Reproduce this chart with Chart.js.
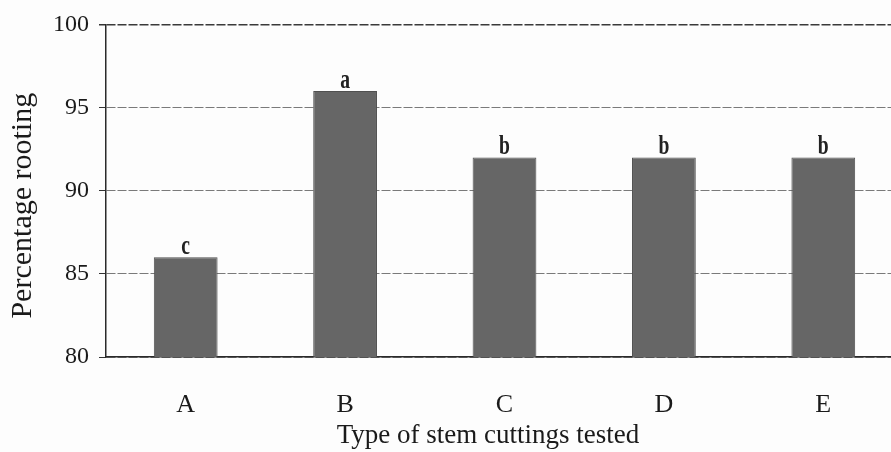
<!DOCTYPE html>
<html>
<head>
<meta charset="utf-8">
<script src="https://cdn.jsdelivr.net/npm/chart.js@4"></script>
<style>
html,body{margin:0;padding:0;background:#fdfdfd;overflow:hidden;}
#wrap{width:903px;height:452px;position:relative;}
</style>
</head>
<body>
<div id="wrap"><canvas id="c" width="903" height="452"></canvas></div>
<script>
const categories = ['A', 'B', 'C', 'D', 'E'];
const rootingValues = [86, 96, 92, 92, 92];
const significanceLetters = ['c', 'a', 'b', 'b', 'b'];
const yTicks = [80, 85, 90, 95, 100];
const xTitle = 'Type of stem cuttings tested';
const yTitle = 'Percentage rooting';

const FONT = "'Liberation Serif','Times New Roman',serif";

const textPlugin = {
  id: 'texts',
  afterDatasetsDraw(chart) {
    const ctx = chart.ctx;
    const meta = chart.getDatasetMeta(0);
    meta.data.forEach((bar, i) => {
      ctx.save();
      ctx.font = 'bold 28px ' + FONT;
      ctx.fillStyle = '#222222';
      ctx.textAlign = 'center';
      ctx.textBaseline = 'alphabetic';
      ctx.translate(bar.x, bar.y - 3);
      ctx.scale(0.7, 1);
      ctx.fillText(significanceLetters[i], 0, 0);
      ctx.restore();
    });
  },
  afterDraw(chart) {
    const ctx = chart.ctx;
    const area = chart.chartArea;
    ctx.save();
    ctx.fillStyle = '#1a1a1a';
    ctx.textAlign = 'center';
    ctx.textBaseline = 'middle';
    // x axis title, centred on the visible part of the plot
    ctx.font = '27px ' + FONT;
    ctx.fillText(xTitle, (area.left + 870) / 2, chart.height - 16);
    // y axis title
    ctx.font = '30px ' + FONT;
    ctx.translate(23, (area.top + area.bottom) / 2 + 15);
    ctx.rotate(-Math.PI / 2);
    ctx.fillText(yTitle, 0, 0);
    ctx.restore();
  }
};

new Chart(document.getElementById('c'), {
  type: 'bar',
  data: {
    labels: categories,
    datasets: [{
      data: rootingValues,
      backgroundColor: '#666666',
      borderColor: '#505050',
      borderWidth: 1,
      barPercentage: 0.4,
      categoryPercentage: 1.0
    }]
  },
  options: {
    responsive: false,
    animation: false,
    devicePixelRatio: 1,
    layout: { padding: { top: 24, right: 0, left: 0, bottom: 0 } },
    plugins: { legend: { display: false }, tooltip: { enabled: false } },
    scales: {
      y: {
        min: 80, max: 100,
        afterBuildTicks: s => { s.ticks = yTicks.map(v => ({ value: v })); },
        afterFit: s => { s.width = 106; },
        border: { display: true, color: '#2a2a2a', width: 1.5, dash: [9, 2] },
        grid: {
          color: ctx => (ctx.tick && ctx.tick.value === 100) ? '#3a3a3a' : '#7a7a7a',
          lineWidth: ctx => (ctx.tick && ctx.tick.value === 100) ? 1.5 : 1,
          tickLength: 7,
          tickColor: '#333333',
          drawTicks: true
        },
        ticks: {
          color: '#1a1a1a',
          font: { family: FONT, size: 24 },
          padding: 10
        },
        title: { display: false }
      },
      x: {
        afterFit: s => { s.height = 95; },
        border: { display: true, color: '#2a2a2a', width: 1.5 },
        grid: { display: false, drawTicks: false },
        ticks: {
          color: '#1a1a1a',
          font: { family: FONT, size: 26 },
          padding: 33
        },
        title: { display: false }
      }
    }
  },
  plugins: [textPlugin]
});
</script>
</body>
</html>
